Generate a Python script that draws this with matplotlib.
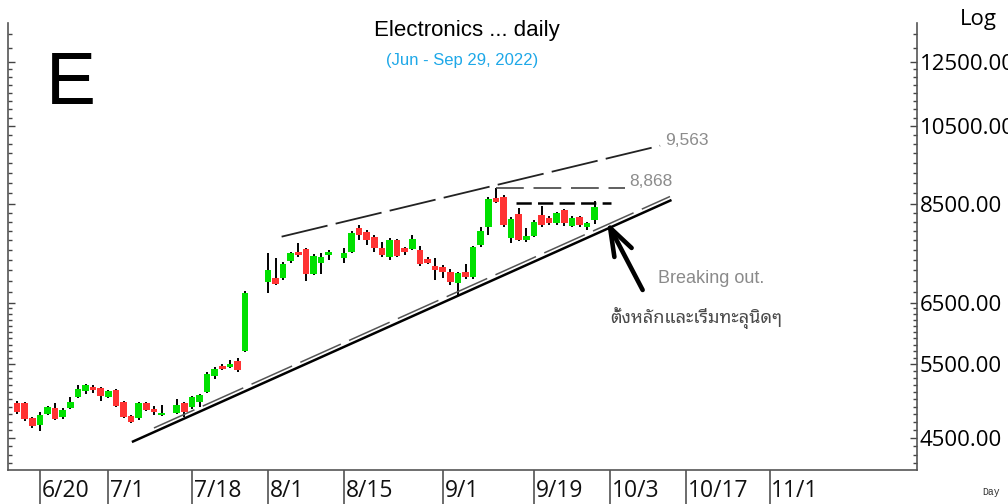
import numpy as np
import matplotlib
matplotlib.use('Agg')
import matplotlib.pyplot as plt
from matplotlib import font_manager
from matplotlib.ft2font import FT2Font
from matplotlib.ticker import FixedLocator, FuncFormatter, NullFormatter

plt.rcParams['lines.scale_dashes'] = False

W, H = 1008, 504

# ---------------- data ----------------
dates = ['2022-06-15', '2022-06-16', '2022-06-17', '2022-06-20', '2022-06-21', '2022-06-22',
         '2022-06-23', '2022-06-24', '2022-06-27', '2022-06-28', '2022-06-29', '2022-06-30',
         '2022-07-01', '2022-07-04', '2022-07-05', '2022-07-06', '2022-07-07', '2022-07-08',
         '2022-07-11', '2022-07-12', '2022-07-14', '2022-07-15', '2022-07-18', '2022-07-19',
         '2022-07-20', '2022-07-21', '2022-07-22', '2022-07-25', '2022-07-26', '2022-07-27',
         '2022-08-01', '2022-08-02', '2022-08-03', '2022-08-04', '2022-08-05', '2022-08-08',
         '2022-08-09', '2022-08-10', '2022-08-11', '2022-08-15', '2022-08-16', '2022-08-17',
         '2022-08-18', '2022-08-19', '2022-08-22', '2022-08-23', '2022-08-24', '2022-08-25',
         '2022-08-26', '2022-08-29', '2022-08-30', '2022-08-31', '2022-09-01', '2022-09-02',
         '2022-09-05', '2022-09-06', '2022-09-07', '2022-09-08', '2022-09-09', '2022-09-12',
         '2022-09-13', '2022-09-14', '2022-09-15', '2022-09-16', '2022-09-19', '2022-09-20',
         '2022-09-21', '2022-09-22', '2022-09-23', '2022-09-26', '2022-09-27', '2022-09-28',
         '2022-09-29']

opens = [4949, 4949, 4751, 4662, 4803, 4882, 4764, 4882, 5030, 5113, 5169, 5155, 5030, 5127,
         4962, 4777, 4751, 4949, 4869, 4790,
         4816, 4949, 4896, 4962, 5099, 5326, 5473, 5458, 5547, 5700,
         6876, 6951, 6951, 7280, 7460, 7521, 7027, 7240, 7399,
         7339, 7460, 7963, 7876, 7770, 7541, 7359, 7707, 7541, 7521, 7500, 7319, 7181, 7162,
         7065, 6857, 7065, 6970, 7603, 7984, 8639, 8662, 7749, 8271, 7707, 7791, 8249, 8182,
         8071, 8362, 8006, 8204, 7984, 8137]
highs = [4976, 4962, 4764, 4829, 4909, 4949, 4882, 5030, 5197, 5211, 5197, 5169, 5127, 5141,
         4976, 4790, 4962, 4962, 4909, 4922,
         5003, 4962, 5044, 5072, 5384, 5458, 5502, 5562, 5593, 6710,
         7440, 7339, 7260, 7460, 7644, 7541, 7419, 7440, 7500,
         7541, 7898, 8028, 7919, 7813, 7665, 7749, 7728, 7562, 7813, 7582, 7359, 7339, 7201,
         7123, 7065, 7220, 7582, 7984, 8662, 8868, 8710, 8205, 8407, 7963, 8137, 8453, 8227,
         8317, 8384, 8227, 8227, 8093, 8569]
lows = [4803, 4713, 4624, 4586, 4790, 4726, 4739, 4869, 5017, 5072, 5085, 4976, 5017, 4896,
        4751, 4687, 4726, 4843, 4790, 4783,
        4803, 4764, 4869, 4896, 5085, 5283, 5413, 5443, 5384, 5684,
        6673, 6820, 6913, 7240, 7359, 6894, 7008, 7027, 7299,
        7240, 7440, 7707, 7603, 7460, 7359, 7299, 7359, 7399, 7500, 7181, 7220, 6913, 6951,
        6820, 6619, 6932, 6932, 7562, 7813, 8522, 7984, 7644, 7686, 7665, 7770, 7984, 8028,
        8028, 8006, 7984, 7984, 7919, 8049]
closes = [4829, 4739, 4649, 4790, 4896, 4739, 4856, 4962, 5141, 5197, 5127, 5044, 5113, 4909,
          4764, 4700, 4949, 4856, 4829, 4816,
          4922, 4829, 5030, 5058, 5355, 5428, 5428, 5502, 5413, 6673,
          7104, 6839, 7220, 7440, 7399, 7027, 7379, 7359, 7460,
          7440, 7855, 7813, 7707, 7541, 7399, 7707, 7379, 7460, 7728, 7220, 7240, 7104, 7065,
          6876, 7046, 6970, 7562, 7898, 8615, 8545, 8028, 8160, 7707, 7791, 8093, 8028, 8071,
          8294, 8071, 8182, 8028, 8071, 8430]

tick_dates = ['2022-06-20', '2022-07-01', '2022-07-18', '2022-08-01', '2022-08-15',
              '2022-09-01', '2022-09-19', '2022-10-03', '2022-10-17', '2022-11-01']
tick_labels = ['6/20', '7/1', '7/18', '8/1', '8/15', '9/1', '9/19', '10/3', '10/17', '11/1']

price_labels = [4500, 5500, 6500, 8500, 10500, 12500]

# trend lines: (business-day offset from 6/20, price)
support_line = [(12.1, 4451), (83.1, 8592)]
support_dashed = [(15.0, 4624), (82.9, 8674)]
resistance_line = [(31.8, 7777), (81.6, 9958)]
level_high = 8868
level_high_span = (60.0, 77.0)
level_box = 8515
level_box_span = (62.7, 75.2)

ORIGIN = '2022-06-20'

def bidx(d):
    return np.busday_count(ORIGIN, d) if d >= ORIGIN else -np.busday_count(d, ORIGIN)

x = np.array([bidx(d) for d in dates], dtype=float)
xt = np.array([bidx(d) for d in tick_dates], dtype=float)

# ---------------- fonts ----------------
def font_with(ch, prefer=()):
    cands = []
    for f in font_manager.fontManager.ttflist:
        try:
            if ord(ch) in FT2Font(f.fname).get_charmap():
                cands.append(f.name)
        except Exception:
            continue
    for p in prefer:
        for c in cands:
            if p.lower() in c.lower():
                return c
    return cands[0] if cands else 'DejaVu Sans'

thai_font = font_with('\u0e15', prefer=('Noto Sans Thai', 'Loma', 'Garuda', 'Tahoma', 'Thai'))

# ---------------- figure ----------------
fig = plt.figure(figsize=(W / 100, H / 100), dpi=100)
L, R, T, B = 8, 917, 23, 470
ax = fig.add_axes([L / W, 1 - B / H, (R - L) / W, (B - T) / H])
ax.set_yscale('log')
ax.set_xlim(-4.2, 115.4)
ax.set_ylim(4125, 13899)

green = '#00E000'
red = '#FF3333'
bw = 0.88
for xi, o, h, l, c in zip(x, opens, highs, lows, closes):
    ax.plot([xi, xi], [l, h], color='black', lw=1.4, zorder=2, solid_capstyle='butt')
    col = green if c >= o else red
    lo, hi = min(o, c), max(o, c)
    if hi - lo < 1:
        hi = lo * 1.001
    ax.bar(xi, hi - lo, bottom=lo, width=bw, color=col, edgecolor='none', zorder=3)

# trend lines
ax.plot(*zip(*support_line), color='black', lw=1.8, zorder=4, solid_capstyle='butt')
ax.plot(*zip(*support_dashed), color='#555555', lw=1.1, dashes=(32, 6.5), zorder=4)
ax.plot(*zip(*resistance_line), color='#222222', lw=1.3, dashes=(34, 6), zorder=4)
ax.plot(level_high_span, [level_high, level_high], color='#444444', lw=1.2,
        dashes=(20, 7), zorder=4)
ax.plot(level_box_span, [level_box, level_box], color='black', lw=1.8,
        dashes=(11, 4.5), zorder=4)

ax.text(82.2, 10086, '9,563', fontsize=12.5, color='#8c8c8c', family='Liberation Sans',
        va='center', ha='left')
ax.text(77.6, 9047, '8,868', fontsize=12.5, color='#8c8c8c', family='Liberation Sans',
        va='center', ha='left')

ax.annotate('', xy=(74.6, 8100), xytext=(79.3, 6728),
            arrowprops=dict(arrowstyle='->,head_length=2.0,head_width=0.7', lw=3.3,
                            color='black', mutation_scale=10, shrinkA=0, shrinkB=0),
            zorder=5)
ax.text(81.3, 6932, 'Breaking out.', fontsize=13, color='#8a8a8a', family='Liberation Sans',
        va='center', ha='left')
ax.text(75.0, 6151, 'ตั้งหลักและเริ่มทะลุนิดๆ', fontsize=13, color='#4a4a4a',
        family=[thai_font, 'DejaVu Sans'], va='baseline', ha='left')

# spines
for s in ['left', 'right', 'bottom']:
    ax.spines[s].set_color('#555555')
    ax.spines[s].set_linewidth(1.2)
ax.spines['top'].set_visible(False)

# y ticks
minor_ticks = np.concatenate([np.arange(4200, 6500, 100), np.arange(6700, 8500, 200),
                              np.arange(8750, 12500, 250), np.arange(13000, 14000, 500)])
ax.yaxis.set_major_locator(FixedLocator(price_labels))
ax.yaxis.set_minor_locator(FixedLocator(minor_ticks))
ax.yaxis.set_major_formatter(FuncFormatter(lambda v, p: f'{v:.2f}'))
ax.yaxis.set_minor_formatter(NullFormatter())
ax.tick_params(axis='y', which='both', direction='in', left=True, right=True,
               labelleft=False, labelright=True, color='#444444', width=1)
ax.tick_params(axis='y', which='major', length=5, pad=2, labelsize=16)
ax.tick_params(axis='y', which='minor', length=3)
for t in ax.get_yticklabels():
    t.set_fontfamily('Open Sans')

# x ticks: separator lines below axis with labels to the right
ax.set_xticks(xt)
ax.set_xticklabels([])
ax.xaxis.set_minor_locator(FixedLocator([]))
ax.tick_params(axis='x', which='major', direction='out', length=25, width=1.1, color='#444444')
for xv, lab in zip(xt, tick_labels):
    ax.annotate(lab, xy=(xv, 0), xycoords=ax.get_xaxis_transform(), xytext=(1.2, -19.5),
                textcoords='offset points', ha='left', va='baseline', fontsize=16.5,
                family='Open Sans', color='#111111', annotation_clip=False)

# figure texts
def fx(px):
    return px / W

def fy(py):
    return 1 - py / H

fig.text(fx(466.7), fy(36), 'Electronics ... daily', fontsize=16, family='Liberation Sans',
         ha='center', va='baseline', color='black')
fig.text(fx(462.5), fy(65), '(Jun - Sep 29, 2022)', fontsize=12, family='Liberation Sans',
         ha='center', va='baseline', color='#1EA8E8')
fig.text(fx(46), fy(104), 'E', fontsize=54, family='Liberation Sans', ha='left',
         va='baseline', color='black')
fig.text(fx(960), fy(25), 'Log', fontsize=16, family='Open Sans', ha='left', va='baseline',
         color='black')
fig.text(fx(982), fy(495), 'Day', fontsize=7, family='Liberation Mono', ha='left',
         va='baseline', color='#333333')

fig.savefig('out.png', dpi=100)
